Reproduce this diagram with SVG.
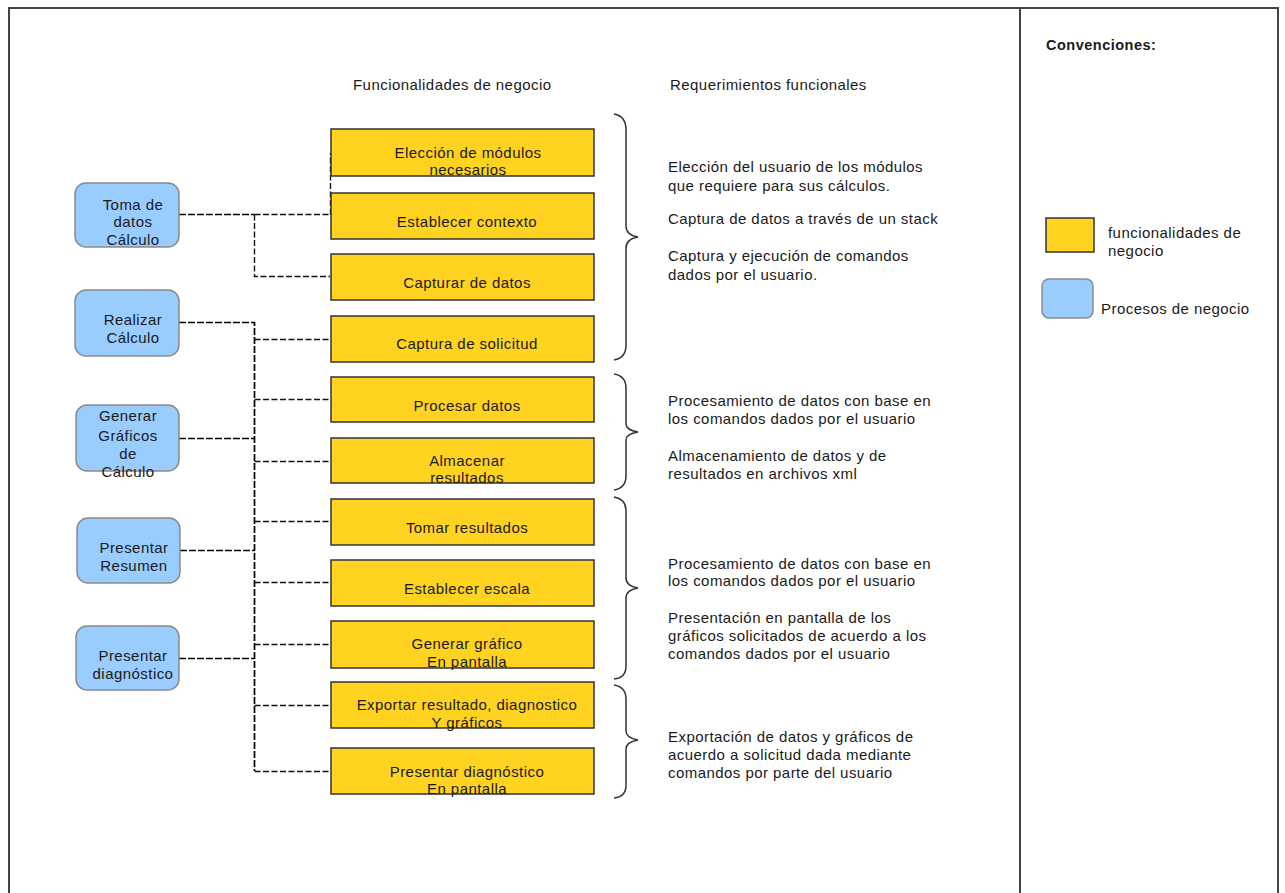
<svg xmlns="http://www.w3.org/2000/svg" width="1285" height="893" viewBox="0 0 1285 893">
<style>
text{font-family:"Liberation Sans",Arial,sans-serif;font-size:15px;letter-spacing:0.45px;fill:#1a1a1a}
.c{text-anchor:middle}
.yb{fill:#ffd320;stroke:#333;stroke-width:1.5}
.bb{fill:#99ccff;stroke:#8a8a8a;stroke-width:1.5}
.main{fill:none;stroke:#000;stroke-width:1.7;stroke-dasharray:7 2}
.br{fill:none;stroke:#111;stroke-width:1.4;stroke-dasharray:6 2.5}
.brace{fill:none;stroke:#333;stroke-width:1.5}
.frame{fill:none;stroke:#444;stroke-width:2}
</style>
<rect width="1285" height="893" fill="#fff"/>
<g id="frame">
<path class="frame" d="M9,900 V8 H1278 V900"/>
<line class="frame" x1="1020" y1="8" x2="1020" y2="900"/>
</g>
<g id="headers">
<text x="353" y="90">Funcionalidades de negocio</text>
<text x="670" y="90">Requerimientos funcionales</text>
</g>
<g id="connectors">
<path class="main" d="M179,214.5 H254.5"/>
<path class="br" d="M254.5,214.5 H330 M254.5,214.5 V276.5 H330 M330.5,214.5 V153"/>
<path class="main" d="M179,322.5 H254.5 V771"/>
<path class="main" d="M179,438.5 H254.5"/>
<path class="main" d="M180,550.5 H254.5"/>
<path class="main" d="M179,658.5 H254.5"/>
<path class="br" d="M254.5,339.5 H330 M254.5,399.5 H330 M254.5,461.5 H330 M254.5,521.5 H330 M254.5,582.5 H330 M254.5,644.5 H330 M254.5,705.5 H330 M254.5,771.5 H330"/>
</g>
<g id="p1"><rect class="bb" x="75" y="183" width="104" height="64" rx="11"/><text class="c" x="133" y="210">Toma de</text><text class="c" x="133" y="227">datos</text><text class="c" x="133" y="245">Cálculo</text></g>
<g id="p2"><rect class="bb" x="75" y="290" width="104" height="66" rx="11"/><text class="c" x="133" y="325">Realizar</text><text class="c" x="133" y="343">Cálculo</text></g>
<g id="p3"><rect class="bb" x="76" y="405" width="103" height="66" rx="11"/><text class="c" x="128" y="421">Generar</text><text class="c" x="128" y="441">Gráficos</text><text class="c" x="128" y="459">de</text><text class="c" x="128" y="477">Cálculo</text></g>
<g id="p4"><rect class="bb" x="77" y="518" width="103" height="65" rx="11"/><text class="c" x="134" y="553">Presentar</text><text class="c" x="134" y="571">Resumen</text></g>
<g id="p5"><rect class="bb" x="76" y="626" width="103" height="64" rx="11"/><text class="c" x="133" y="661">Presentar</text><text class="c" x="133" y="679">diagnóstico</text></g>
<g id="f1"><rect class="yb" x="331" y="129" width="263" height="47"/><text class="c" x="468" y="158">Elección de módulos</text><text class="c" x="468" y="175">necesarios</text></g>
<g id="f2"><rect class="yb" x="331" y="193" width="263" height="46"/><text class="c" x="467" y="227">Establecer contexto</text></g>
<g id="f3"><rect class="yb" x="331" y="254" width="263" height="46"/><text class="c" x="467" y="288">Capturar de datos</text></g>
<g id="f4"><rect class="yb" x="331" y="316" width="263" height="46"/><text class="c" x="467" y="349">Captura de solicitud</text></g>
<g id="f5"><rect class="yb" x="331" y="377" width="263" height="45"/><text class="c" x="467" y="411">Procesar datos</text></g>
<g id="f6"><rect class="yb" x="331" y="438" width="263" height="45"/><text class="c" x="467" y="466">Almacenar</text><text class="c" x="467" y="483">resultados</text></g>
<g id="f7"><rect class="yb" x="331" y="499" width="263" height="46"/><text class="c" x="467" y="533">Tomar resultados</text></g>
<g id="f8"><rect class="yb" x="331" y="560" width="263" height="46"/><text class="c" x="467" y="594">Establecer escala</text></g>
<g id="f9"><rect class="yb" x="331" y="621" width="263" height="47"/><text class="c" x="467" y="649">Generar gráfico</text><text class="c" x="467" y="667">En pantalla</text></g>
<g id="f10"><rect class="yb" x="331" y="682" width="263" height="46"/><text class="c" x="467" y="710">Exportar resultado, diagnostico</text><text class="c" x="467" y="728">Y gráficos</text></g>
<g id="f11"><rect class="yb" x="331" y="748" width="263" height="46"/><text class="c" x="467" y="777">Presentar diagnóstico</text><text class="c" x="467" y="794">En pantalla</text></g>
<g id="braces">
<path class="brace" d="M614,114 Q626,116 626,130 V226 Q626,235 638,237 Q626,239 626,248 V345 Q626,358 614,360"/>
<path class="brace" d="M614,374 Q626,376 626,388 V424 Q626,430 638,432 Q626,434 626,440 V476 Q626,488 614,490"/>
<path class="brace" d="M614,497 Q626,499 626,511 V578 Q626,586 638,588 Q626,590 626,598 V666 Q626,678 614,679"/>
<path class="brace" d="M614,685 Q626,687 626,699 V731 Q626,738 638,740 Q626,742 626,749 V785 Q626,797 614,798"/>
</g>
<g id="requirements">
<text x="668" y="172">Elección del usuario de los módulos</text>
<text x="668" y="191">que requiere para sus cálculos.</text>
<text x="668" y="224">Captura de datos a través de un stack</text>
<text x="668" y="261">Captura y ejecución de comandos</text>
<text x="668" y="280">dados por el usuario.</text>
<text x="668" y="406">Procesamiento de datos con base en</text>
<text x="668" y="424">los comandos dados por el usuario</text>
<text x="668" y="461">Almacenamiento de datos y de</text>
<text x="668" y="479">resultados en archivos xml</text>
<text x="668" y="569">Procesamiento de datos con base en</text>
<text x="668" y="586">los comandos dados por el usuario</text>
<text x="668" y="623">Presentación en pantalla de los</text>
<text x="668" y="641">gráficos solicitados de acuerdo a los</text>
<text x="668" y="659">comandos dados por el usuario</text>
<text x="668" y="742">Exportación de datos y gráficos de</text>
<text x="668" y="760">acuerdo a solicitud dada mediante</text>
<text x="668" y="778">comandos por parte del usuario</text>
</g>
<g id="legend">
<text x="1046" y="50" style="font-weight:bold;font-size:14.5px;letter-spacing:0.5px">Convenciones:</text>
<rect class="yb" x="1046" y="218" width="48" height="34"/>
<text x="1108" y="238">funcionalidades de</text>
<text x="1108" y="256">negocio</text>
<rect class="bb" x="1042" y="279" width="51" height="39" rx="7"/>
<text x="1101" y="314">Procesos de negocio</text>
</g>
</svg>
